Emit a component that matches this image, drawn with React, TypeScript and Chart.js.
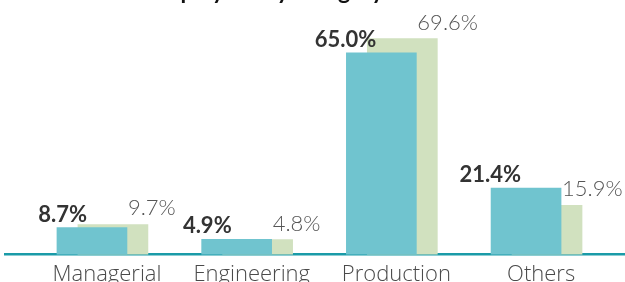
import React, { useEffect, useRef } from "react";
import { Chart, registerables } from "chart.js";

Chart.register(...registerables);

const categories = ["Managerial", "Engineering", "Production", "Others"];
const currentValues = [8.7, 4.9, 65.0, 21.4];
const previousValues = [9.7, 4.8, 69.6, 15.9];
const titleText = "Employees by category";

const TEAL = "#70c4cf";
const GREEN = "#d1e1bf";
const AXIS = "#1a9ba8";
const FONT = "Lato, 'Open Sans', sans-serif";
const TICK_FONT = "'Open Sans', Lato, sans-serif";
const TEAL_SHIFT = -0.104;
const GREEN_SHIFT = 0.041;
const TOP_OFF = 30;
const W = 625;
const H = 342;

const fmt = (v: number) => v.toFixed(1) + "%";

const labelPlugin = {
  id: "valueLabels",
  afterDatasetsDraw(chart: any) {
    const ctx = chart.ctx;
    const teal = chart.getDatasetMeta(0).data;
    const green = chart.getDatasetMeta(1).data;
    ctx.save();
    ctx.textBaseline = "alphabetic";
    teal.forEach((bar: any, i: number) => {
      const p = bar.getProps(["x", "y", "width"], true);
      ctx.font = `bold 22px ${FONT}`;
      ctx.fillStyle = "#333333";
      ctx.textAlign = "right";
      ctx.fillText(fmt(currentValues[i]), p.x - 5, p.y - 6);
      const g = green[i].getProps(["x", "y", "width"], true);
      ctx.font = `300 22px ${FONT}`;
      ctx.fillStyle = "#555555";
      ctx.textAlign = "left";
      ctx.fillText(fmt(previousValues[i]), p.x + p.width / 2 + 1, g.y - 9);
    });
    ctx.restore();
  },
};

const titlePlugin = {
  id: "clippedTitle",
  afterDraw(chart: any) {
    const ctx = chart.ctx;
    ctx.save();
    ctx.font = `bold 23px ${FONT}`;
    ctx.fillStyle = "#111111";
    ctx.textAlign = "center";
    ctx.textBaseline = "alphabetic";
    ctx.fillText(titleText, 266, TOP_OFF - 1);
    ctx.restore();
  },
};

export default function App() {
  const ref = useRef<HTMLCanvasElement | null>(null);
  useEffect(() => {
    if (!ref.current) return;
    const chart = new Chart(ref.current, {
      type: "bar",
      data: {
        datasets: [
          {
            label: "Current",
            data: currentValues.map((v, i) => ({ x: i + TEAL_SHIFT, y: v })),
            backgroundColor: TEAL,
            barThickness: 70,
            grouped: false,
          } as any,
          {
            label: "Previous",
            data: previousValues.map((v, i) => ({ x: i + GREEN_SHIFT, y: v })),
            backgroundColor: GREEN,
            barThickness: 70,
            grouped: false,
          } as any,
        ],
      },
      options: {
        responsive: false,
        animation: false,
        devicePixelRatio: 1,
        layout: { padding: { top: TOP_OFF, left: 5.6, right: 0, bottom: 17 } },
        plugins: { legend: { display: false }, tooltip: { enabled: false }, title: { display: false } },
        scales: {
          x: {
            type: "linear",
            offset: false,
            min: -0.7008,
            max: 3.5798,
            grid: { display: false, drawTicks: false },
            border: { display: true, color: AXIS, width: 2.5 },
            afterBuildTicks: (scale: any) => {
              scale.ticks = categories.map((_, i) => ({ value: i }));
            },
            ticks: {
              padding: 7,
              autoSkip: false,
              maxRotation: 0,
              color: "#4a4a4a",
              font: { family: TICK_FONT, size: 22, weight: "300" },
              callback: (v: any) => categories[Math.round(Number(v))] ?? "",
            },
          },
          y: {
            display: false,
            min: 0,
            max: 82,
          },
        },
      } as any,
      plugins: [labelPlugin, titlePlugin],
    });
    return () => chart.destroy();
  }, []);
  return (
    <div style={{ position: "fixed", left: 0, top: -TOP_OFF, width: W, height: H }}>
      <canvas ref={ref} width={W} height={H} style={{ width: W, height: H, display: "block" }} />
    </div>
  );
}
